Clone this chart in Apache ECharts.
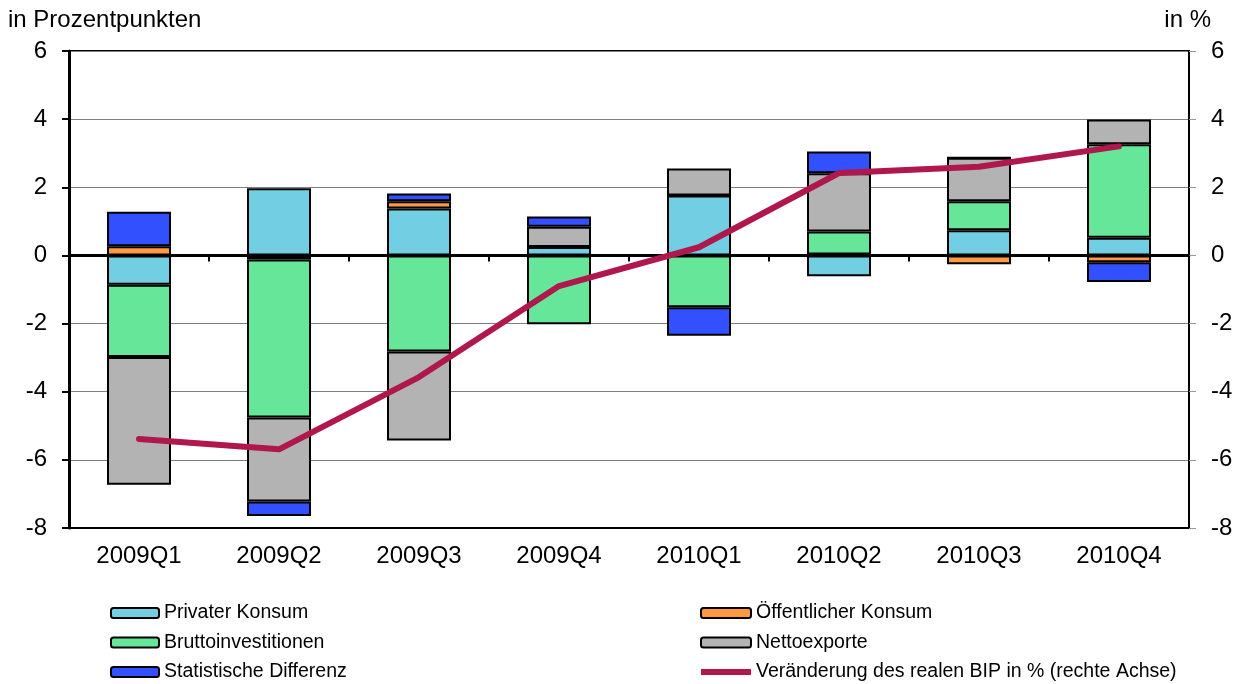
<!DOCTYPE html>
<html>
<head>
<meta charset="utf-8">
<script src="https://cdn.jsdelivr.net/npm/echarts@6/dist/echarts.min.js"></script>
<style>html,body{margin:0;padding:0;background:#fff}#c{width:1241px;height:684px}</style>
</head>
<body>
<div id="c"></div>
<script>
const categories = ['2009Q1','2009Q2','2009Q3','2009Q4','2010Q1','2010Q2','2010Q3','2010Q4'];
const privaterKonsum = [-0.86, 1.97, 1.38, 0.25, 1.76, -0.61, 0.74, 0.52];
const oeffentlicherKonsum = [0.27, -0.12, 0.21, 0.0, 0.0, 0.03, -0.26, -0.20];
const bruttoinvestitionen = [-2.12, -4.64, -2.82, -2.02, -1.52, 0.67, 0.85, 2.74];
const nettoexporte = [-3.75, -2.46, -2.61, 0.59, 0.79, 1.71, 1.28, 0.73];
const statistischeDifferenz = [1.01, -0.43, 0.23, 0.30, -0.84, 0.64, 0.0, -0.58];
const bipVeraenderung = [-5.39, -5.69, -3.57, -0.90, 0.24, 2.42, 2.60, 3.20];
const yTicks = [-8, -6, -4, -2, 0, 2, 4, 6];

const FONT = 'Liberation Sans';
const chart = echarts.init(document.getElementById('c'), null, {renderer: 'canvas'});

function barSeries(name, data, color) {
  return {
    name, type: 'bar', stack: 'total', data, barWidth: 64,
    itemStyle: {color, borderColor: '#000', borderWidth: 2},
    emphasis: {disabled: true}
  };
}

chart.setOption({
  animation: false,
  textStyle: {fontFamily: FONT},
  grid: {left: 69, right: 52, top: 51, bottom: 156, show: true, borderColor: '#000', borderWidth: 2, backgroundColor: 'transparent'},
  legend: [
    {
      orient: 'vertical', left: 110, top: 603, padding: 0, height: 81, itemWidth: 48, itemHeight: 10, itemGap: 9.5,
      textStyle: {fontFamily: FONT, fontSize: 19.5, color: '#000', lineHeight: 20},
      data: ['Privater Konsum', 'Bruttoinvestitionen', 'Statistische Differenz']
    },
    {
      orient: 'vertical', left: 700, top: 603, padding: 0, height: 81, itemWidth: 50, itemHeight: 10, itemGap: 9.5,
      textStyle: {fontFamily: FONT, fontSize: 19.5, color: '#000', lineHeight: 20},
      data: ['Öffentlicher Konsum', 'Nettoexporte', {name: 'Veränderung des realen BIP in % (rechte Achse)', icon: 'path://M0,0 L50,0 L50,6 L0,6 Z', itemStyle: {color: '#B0174D', borderWidth: 0}}]
    }
  ],
  graphic: [
    {type: 'text', left: 8, top: 8, style: {text: 'in Prozentpunkten', font: '24px "Liberation Sans"', fill: '#000'}},
    {type: 'text', right: 30, top: 8, style: {text: 'in %', font: '24px "Liberation Sans"', fill: '#000'}}
  ],
  xAxis: [
    {
      type: 'category', data: categories, position: 'bottom',
      axisLine: {onZero: false, lineStyle: {color: '#000', width: 2}},
      axisTick: {show: false},
      axisLabel: {fontFamily: FONT, fontSize: 24, color: '#000', margin: 16}
    },
    {
      type: 'category', data: categories, position: 'bottom',
      axisLine: {onZero: true, onZeroAxisIndex: 0, lineStyle: {color: '#000', width: 3}},
      axisTick: {show: true, length: 6, lineStyle: {color: '#000', width: 2}},
      axisLabel: {show: false}
    }
  ],
  yAxis: [
    {
      type: 'value', min: -8, max: 6, interval: 2, position: 'left',
      axisLine: {show: true, lineStyle: {color: '#000', width: 3}},
      axisTick: {show: true, length: 7, lineStyle: {color: '#000', width: 2}},
      axisLabel: {fontFamily: FONT, fontSize: 24, color: '#000', margin: 22,
        formatter: v => yTicks.includes(v) ? String(v) : ''},
      splitLine: {show: true, lineStyle: {color: '#808080', width: 1}}
    },
    {
      type: 'value', min: -8, max: 6, interval: 2, position: 'right',
      axisLine: {show: true, lineStyle: {color: '#000', width: 2}},
      axisTick: {show: true, length: 7, lineStyle: {color: '#999', width: 1}},
      axisLabel: {fontFamily: FONT, fontSize: 24, color: '#000', margin: 22,
        formatter: v => yTicks.includes(v) ? String(v) : ''},
      splitLine: {show: false}
    }
  ],
  series: [
    barSeries('Privater Konsum', privaterKonsum, '#72CFE3'),
    barSeries('Öffentlicher Konsum', oeffentlicherKonsum, '#FF9A40'),
    barSeries('Bruttoinvestitionen', bruttoinvestitionen, '#66E699'),
    barSeries('Nettoexporte', nettoexporte, '#B3B3B3'),
    barSeries('Statistische Differenz', statistischeDifferenz, '#3350FF'),
    {
      name: 'Veränderung des realen BIP in % (rechte Achse)', type: 'line', yAxisIndex: 1,
      data: bipVeraenderung, symbol: 'none', z: 10,
      lineStyle: {color: '#B0174D', width: 6, cap: 'round', join: 'round'},
      itemStyle: {color: '#B0174D'},
      emphasis: {disabled: true}
    }
  ]
});
</script>
</body>
</html>
